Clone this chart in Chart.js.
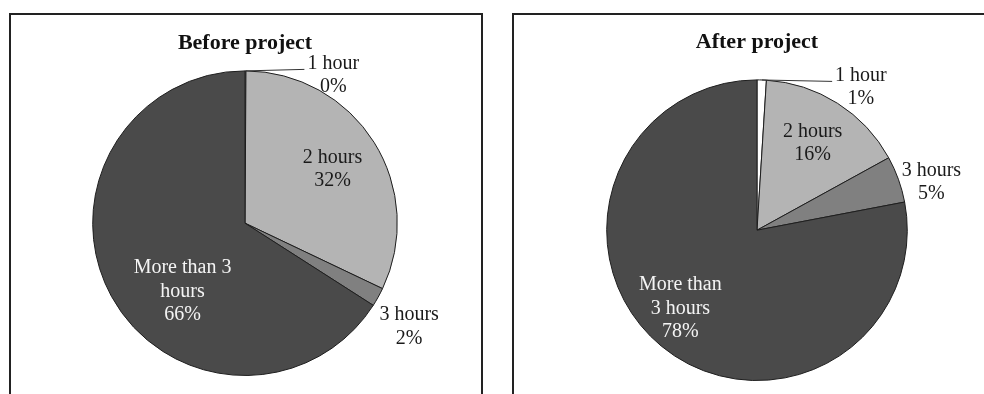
<!DOCTYPE html>
<html>
<head>
<meta charset="utf-8">
<script src="https://cdn.jsdelivr.net/npm/chart.js@4/dist/chart.umd.min.js"></script>
<style>
  body { margin: 0; width: 984px; height: 394px; overflow: hidden; background: #fff; position: relative; }
  .box { position: absolute; top: 13px; height: 400px; border: 2px solid #222; border-bottom: none; }
  #boxBefore { left: 9px; width: 470px; }
  #boxAfter { left: 512px; width: 490px; }
  canvas { position: absolute; left: 0; top: 0; }
</style>
</head>
<body>
<div class="box" id="boxBefore"><canvas id="beforeChart" width="470" height="379"></canvas></div>
<div class="box" id="boxAfter"><canvas id="afterChart" width="470" height="379"></canvas></div>
<script>
// ---------- DATA ----------
const categories = ['1 hour', '2 hours', '3 hours', 'More than 3 hours'];
const beforeValues = [0.1, 32, 2, 66];
const afterValues = [1, 16, 5, 78];
const sliceColors = ['#ffffff', '#b4b4b4', '#808080', '#4a4a4a'];

// how each chart wraps the category names (percent line is added below)
const beforeLabelLines = [['1 hour'], ['2 hours'], ['3 hours'], ['More than 3', 'hours']];
const afterLabelLines = [['1 hour'], ['2 hours'], ['3 hours'], ['More than', '3 hours']];

Chart.defaults.font.family = '"Liberation Serif", "Times New Roman", serif';

// ---------- LABEL PLUGIN ----------
const pieLabels = {
  id: 'pieLabels',
  afterDatasetsDraw(chart, args, opts) {
    const ctx = chart.ctx;
    const meta = chart.getDatasetMeta(0);
    const data = chart.data.datasets[0].data;
    const total = data.reduce((a, b) => a + b, 0);
    ctx.save();
    ctx.font = opts.fontSize + 'px ' + Chart.defaults.font.family;
    ctx.textAlign = 'center';
    ctx.textBaseline = 'middle';
    meta.data.forEach((arc, i) => {
      const p = arc.getProps(['x', 'y', 'outerRadius', 'startAngle', 'endAngle'], true);
      const r = p.outerRadius;
      const pos = opts.positions[i];
      const lx = p.x + pos[0] * r;
      const ly = p.y + pos[1] * r;
      const leader = opts.leaders[i];
      if (leader) {
        const mid = (p.startAngle + p.endAngle) / 2;
        ctx.strokeStyle = '#333';
        ctx.lineWidth = 1;
        ctx.beginPath();
        ctx.moveTo(p.x + Math.cos(mid) * r, p.y + Math.sin(mid) * r);
        ctx.lineTo(p.x + leader[0] * r, p.y + leader[1] * r);
        ctx.stroke();
      }
      const lines = opts.lines[i].concat(Math.round(data[i] / total * 100) + '%');
      ctx.fillStyle = opts.white[i] ? '#f4f4f4' : '#1a1a1a';
      const top = ly - (lines.length - 1) * opts.lineHeight / 2;
      lines.forEach((t, k) => ctx.fillText(t, lx, top + k * opts.lineHeight));
    });
    ctx.restore();
  }
};

function makePie(id, title, values, lineSet, positions, leaders, padding, titlePad) {
  new Chart(document.getElementById(id), {
    type: 'pie',
    data: {
      labels: categories,
      datasets: [{
        data: values,
        backgroundColor: sliceColors,
        borderColor: '#1e1e1e',
        borderWidth: 1
      }]
    },
    options: {
      responsive: false,
      animation: false,
      layout: { padding: padding },
      plugins: {
        legend: { display: false },
        tooltip: { enabled: false },
        title: {
          display: true,
          text: title,
          color: '#111',
          font: { size: 22, weight: 'bold' },
          padding: titlePad
        },
        pieLabels: {
          lines: lineSet,
          positions: positions,
          leaders: leaders,
          white: [false, false, false, true],
          fontSize: 20,
          lineHeight: 23.5
        }
      }
    },
    plugins: [pieLabels]
  });
}

// BEFORE CHART
makePie('beforeChart', 'Before project', beforeValues, beforeLabelLines,
  [[0.58, -0.97], [0.575, -0.353], [1.078, 0.68], [-0.41, 0.45]],
  [[0.39, -1.01], null, null, null],
  { top: 5, left: 81, right: 83, bottom: 18 },
  { top: 10, bottom: 14 });

// AFTER CHART
makePie('afterChart', 'After project', afterValues, afterLabelLines,
  [[0.69, -0.95], [0.37, -0.58], [1.16, -0.32], [-0.51, 0.52]],
  [[0.50, -0.99], null, null, null],
  { top: 4, left: 92, right: 76, bottom: 13 },
  { top: 10, bottom: 24 });
</script>
</body>
</html>
